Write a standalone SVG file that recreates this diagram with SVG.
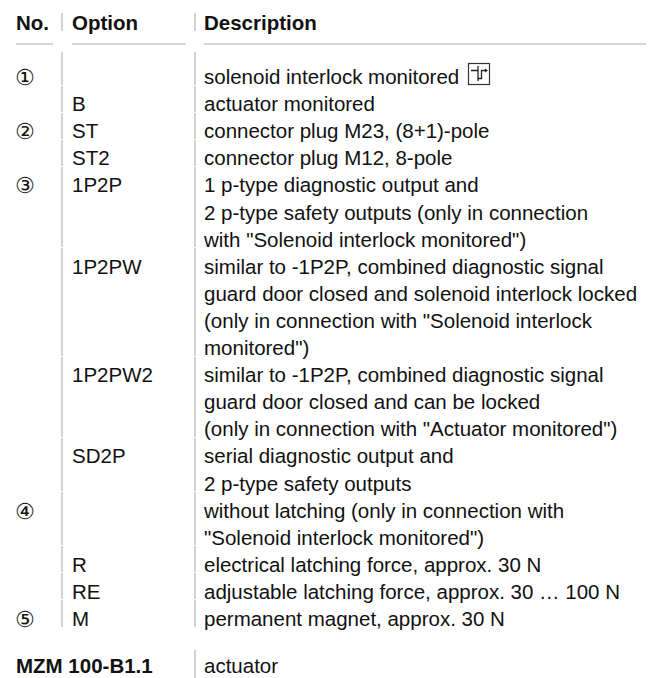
<svg xmlns="http://www.w3.org/2000/svg" width="648" height="678" viewBox="0 0 648 678">
<style>
text{font-family:"Liberation Sans",Arial,"DejaVu Sans",sans-serif;font-size:20.5px;fill:#111}
.b{font-weight:bold}
.n{font-family:"DejaVu Sans","Noto Sans",sans-serif;font-size:22px}
.sep line{stroke:#c8c8c8;stroke-width:1.6}
.ico{fill:none;stroke:#222;stroke-width:1.3}
</style>
<rect width="648" height="678" fill="#fff"/>
<g id="header">
<text x="16" y="30" class="b">No.</text>
<text x="72" y="30" class="b">Option</text>
<text x="204" y="30" class="b">Description</text>
</g>
<g id="connectors" class="sep">
<line x1="62" y1="13" x2="62" y2="31"/>
<line x1="195" y1="13" x2="195" y2="31"/>
<line x1="16" y1="44" x2="53" y2="44"/>
<line x1="72" y1="44" x2="186" y2="44"/>
<line x1="204" y1="44" x2="646" y2="44"/>
<line x1="62" y1="52" x2="62" y2="85"/><line x1="195" y1="52" x2="195" y2="85"/>
<line x1="62" y1="86" x2="62" y2="112"/><line x1="195" y1="86" x2="195" y2="112"/>
<line x1="62" y1="113" x2="62" y2="139"/><line x1="195" y1="113" x2="195" y2="139"/>
<line x1="62" y1="140" x2="62" y2="166"/><line x1="195" y1="140" x2="195" y2="166"/>
<line x1="62" y1="167" x2="62" y2="247"/><line x1="195" y1="167" x2="195" y2="247"/>
<line x1="62" y1="248" x2="62" y2="356"/><line x1="195" y1="248" x2="195" y2="356"/>
<line x1="62" y1="357" x2="62" y2="437"/><line x1="195" y1="357" x2="195" y2="437"/>
<line x1="62" y1="438" x2="62" y2="491"/><line x1="195" y1="438" x2="195" y2="491"/>
<line x1="62" y1="492" x2="62" y2="545"/><line x1="195" y1="492" x2="195" y2="545"/>
<line x1="62" y1="546" x2="62" y2="572"/><line x1="195" y1="546" x2="195" y2="572"/>
<line x1="62" y1="573" x2="62" y2="599"/><line x1="195" y1="573" x2="195" y2="599"/>
<line x1="62" y1="600" x2="62" y2="627"/><line x1="195" y1="600" x2="195" y2="627"/>
<line x1="195" y1="650" x2="195" y2="678"/>
</g>
<g id="row1">
<text x="15" y="85" class="n">①</text>
<text x="204" y="84">solenoid interlock monitored</text>
<g id="icon">
<rect x="468.5" y="63.5" width="21" height="21" fill="#fff" stroke="#333" stroke-width="1.2"/>
<path class="ico" d="M471,70.5 H478 M478,66 V81 M478,78.5 H481.5 V70.5 H485"/>
<path d="M485,68.5 L488,70.5 L485,72.5 Z" fill="#222"/>
</g>
</g>
<g id="row2">
<text x="72" y="111.1">B</text>
<text x="204" y="111.1">actuator monitored</text>
</g>
<g id="row3">
<text x="15" y="139.2" class="n">②</text>
<text x="72" y="138.2">ST</text>
<text x="204" y="138.2">connector plug M23, (8+1)-pole</text>
</g>
<g id="row4">
<text x="72" y="165.3">ST2</text>
<text x="204" y="165.3">connector plug M12, 8-pole</text>
</g>
<g id="row5">
<text x="15" y="193.4" class="n">③</text>
<text x="72" y="192.4">1P2P</text>
<text x="204" y="192.4">1 p-type diagnostic output and</text>
<text x="204" y="219.5">2 p-type safety outputs (only in connection</text>
<text x="204" y="246.6">with "Solenoid interlock monitored")</text>
</g>
<g id="row6">
<text x="72" y="273.7">1P2PW</text>
<text x="204" y="273.7">similar to -1P2P, combined diagnostic signal</text>
<text x="204" y="300.8">guard door closed and solenoid interlock locked</text>
<text x="204" y="327.9">(only in connection with "Solenoid interlock</text>
<text x="204" y="355">monitored")</text>
</g>
<g id="row7">
<text x="72" y="382.1">1P2PW2</text>
<text x="204" y="382.1">similar to -1P2P, combined diagnostic signal</text>
<text x="204" y="409.2">guard door closed and can be locked</text>
<text x="204" y="436.3">(only in connection with "Actuator monitored")</text>
</g>
<g id="row8">
<text x="72" y="463.4">SD2P</text>
<text x="204" y="463.4">serial diagnostic output and</text>
<text x="204" y="490.5">2 p-type safety outputs</text>
</g>
<g id="row9">
<text x="15" y="518.6" class="n">④</text>
<text x="204" y="517.6">without latching (only in connection with</text>
<text x="204" y="544.7">"Solenoid interlock monitored")</text>
</g>
<g id="row10">
<text x="72" y="571.8">R</text>
<text x="204" y="571.8">electrical latching force, approx. 30 N</text>
</g>
<g id="row11">
<text x="72" y="598.9">RE</text>
<text x="204" y="598.9">adjustable latching force, approx. 30 … 100 N</text>
</g>
<g id="row12">
<text x="15" y="627" class="n">⑤</text>
<text x="72" y="626">M</text>
<text x="204" y="626">permanent magnet, approx. 30 N</text>
</g>
<g id="row13">
<text x="16" y="673" class="b">MZM 100-B1.1</text>
<text x="204" y="673">actuator</text>
</g>
</svg>
